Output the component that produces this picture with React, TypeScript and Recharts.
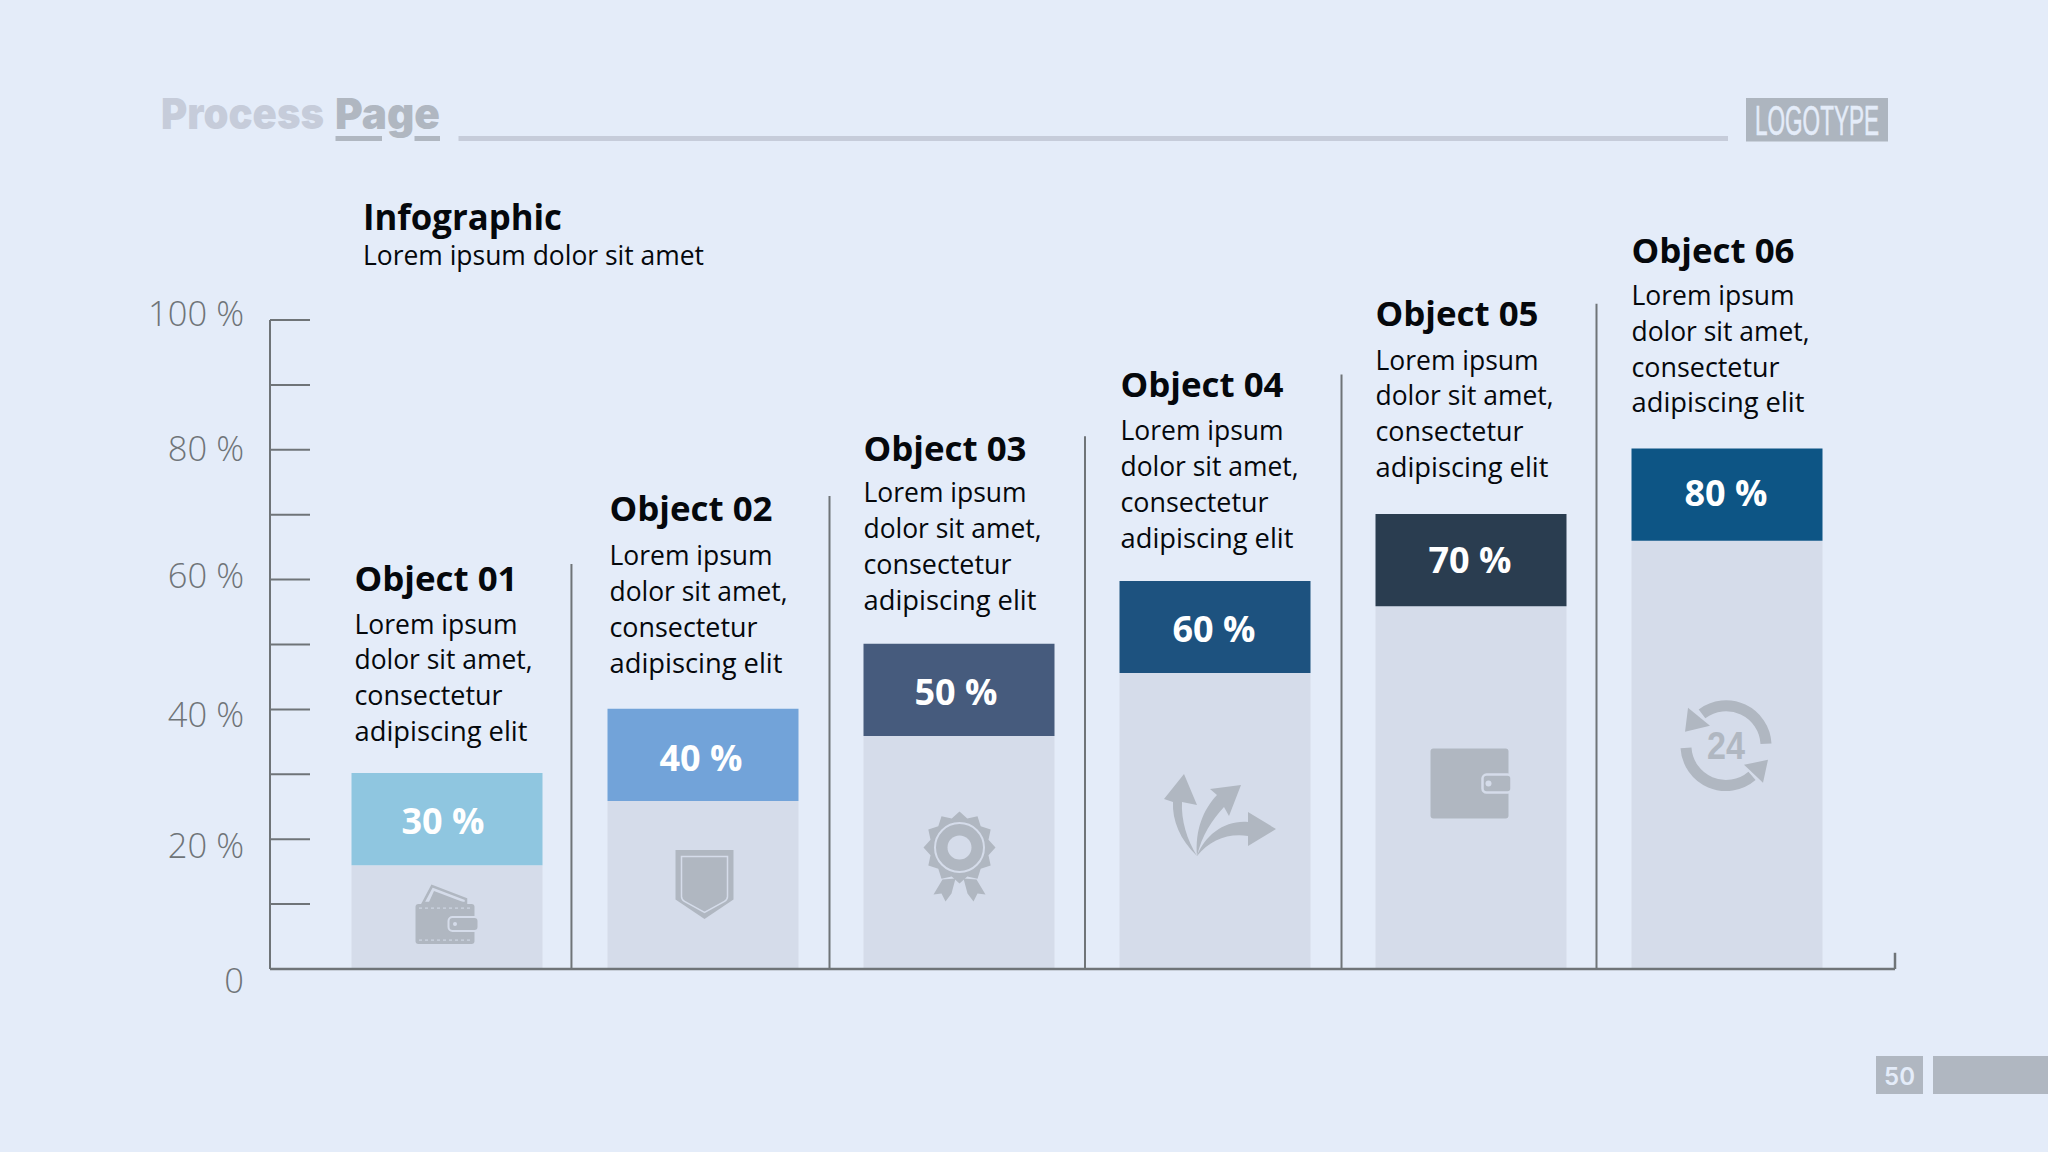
import { Bar, Cell, ComposedChart, LabelList, ReferenceLine, XAxis, YAxis } from "recharts";

const categories = ["Object 01", "Object 02", "Object 03", "Object 04", "Object 05", "Object 06"];
const capLabels = ["30 %", "40 %", "50 %", "60 %", "70 %", "80 %"];
const baseValues = [16, 25.9, 35.9, 45.6, 55.9, 66];
const capValues = [14.2, 14.2, 14.2, 14.2, 14.2, 14.2];
const columnIndex = [0, 1, 2, 3, 4, 5];
const bodyLines = ["Lorem ipsum", "dolor sit amet,", "consectetur", "adipiscing elit"];
const yTicks = [0, 10, 20, 30, 40, 50, 60, 70, 80, 90, 100];
const yLabels: Record<number, string> = { 0: "0", 20: "20 %", 40: "40 %", 60: "60 %", 80: "80 %", 100: "100 %" };

// dividers between the columns, x in column units, y in percent
const dividerPositions = [0.988, 1.996, 2.994, 3.996, 4.992];
const dividerTops = [62.4, 72.9, 82.1, 91.6, 102.5];

const tableData = categories.map((name, i) => ({ name, col: columnIndex[i], base: baseValues[i], cap: capValues[i] }));

const BG = "#e4ecf9";
const BASE = "#d5dcea";
const ICON = "#b0b7c1";
const AXIS = "#6f7478";
const capColors = ["#8fc6e0", "#72a3d9", "#465b7d", "#1d527f", "#2a3d50", "#0d5585"];
const FONT = "'Open Sans', sans-serif";

// small per-column corrections of the hand placed text and icons
const textNudge = [[3, 2], [2, -2], [0, 0], [1, 1], [0, -3], [0, -2]];
const headNudge = [-1, -2.5, 1, -1.5, -1.5, 0];
const iconNudge = [[0, -3], [1.5, -0.5], [0.5, -5], [5, -6], [-1.5, -4], [-1, -9]];
const bodyWidths = [163, 178, 148, 173];
const labelNudge = [[-4, 1], [-2, 3], [-3, 2], [-1, 2], [-1, -1], [-1, -2]];

function YTick({ x, y, payload }: any) {
  const label = yLabels[payload.value];
  const offset: Record<number, number> = { 0: 10, 20: 5, 40: 4, 60: -5, 80: -2.5, 100: -8 };
  return (
    <g>
      <line x1={x} x2={x + 40} y1={y} y2={y} stroke={AXIS} strokeWidth={2} />
      {label && (
        <text
          x={x - 26}
          y={y + (offset[payload.value] ?? 0)}
          textAnchor="end"
          dominantBaseline="central"
          fontFamily={FONT}
          fontSize={34.5}
          fontWeight={300}
          fill="#6f7478"
        >
          {label}
        </text>
      )}
    </g>
  );
}

function CapLabel({ x, y, width, height, index }: any) {
  const left = x + textNudge[index][0];
  const top = y + textNudge[index][1];
  return (
    <g fontFamily={FONT}>
      <text
        x={x + width / 2 + labelNudge[index][0]}
        y={y + height / 2 + labelNudge[index][1]}
        textAnchor="middle"
        dominantBaseline="central"
        fontSize={36}
        fontWeight={700}
        fill="#fff"
      >
        {capLabels[index]}
      </text>
      <text
        x={left}
        y={top - 196.5 + headNudge[index]}
        dominantBaseline="central"
        fontSize={34}
        fontWeight={700}
        fill="#05080c"
        textLength={163}
        lengthAdjust="spacingAndGlyphs"
      >
        {categories[index]}
      </text>
      {bodyLines.map((line, i) => (
        <text
          key={line}
          x={left}
          y={top - 152 + i * 35.8}
          dominantBaseline="central"
          fontSize={27}
          fill="#05080c"
          textLength={bodyWidths[i]}
          lengthAdjust="spacingAndGlyphs"
        >
          {line}
        </text>
      ))}
    </g>
  );
}

function WalletCard() {
  return (
    <g fill={ICON}>
      <path d="M-24 -11 L-15 -28 L19 -15 L19 -11 Z" fill={BASE} stroke={ICON} strokeWidth={2.5} />
      <path d="M-18 -12 L-13 -23 L16 -12 Z" fill={ICON} />
      <rect x={-31.5} y={-10} width={59} height={40} rx={3} />
      <path d="M-28 -6 H24 M-28 26 H24" stroke={BASE} strokeWidth={1} strokeDasharray="3 3" />
      <rect x={1.5} y={3} width={30} height={14} rx={4} stroke={BASE} strokeWidth={2} />
      <circle cx={8} cy={10} r={2} fill={BASE} />
    </g>
  );
}

function Shield() {
  return (
    <g>
      <path d="M-29 -34.5 H29 V15 L0 34.5 L-29 15 Z" fill={ICON} />
      <path d="M-23 -28 H23 V12 Q23 15 20 17 L0 28 L-20 17 Q-23 15 -23 12 Z" fill="none" stroke={BASE} strokeWidth={1.5} />
    </g>
  );
}

function Badge() {
  const points = Array.from({ length: 24 }, (_, i) => {
    const a = (i * Math.PI) / 12 - Math.PI / 2;
    const r = i % 2 === 0 ? 36 : 30;
    return `${r * Math.cos(a)},${r * Math.sin(a)}`;
  }).join(" ");
  return (
    <g fill={ICON}>
      <polygon points={points} />
      <circle r={24.5} fill="none" stroke={BASE} strokeWidth={2} />
      <circle r={12} fill={BASE} />
      <polygon points="-17,32 -4,31 -8,46 -14,54 -18,46 -26,47" />
      <polygon points="17,32 4,31 8,46 14,54 18,46 26,47" />
    </g>
  );
}

function Arrows() {
  return (
    <g fill={ICON}>
      <path d="M-23 41 C-40 25 -48 5 -47 -13 L-56 -16 L-36 -41 L-23 -10 L-38 -13 C-39 5 -33 25 -23 41 Z" />
      <path d="M-23 41 C-25 15 -17 -5 -3 -20 L-10 -26 L21 -30 L9 1 L4 -8 C-8 5 -18 20 -23 41 Z" />
      <path d="M-23 41 C-15 20 5 5 28 7 L28 -3 L56 14 L28 31 L28 21 C8 18 -10 25 -23 41 Z" />
    </g>
  );
}

function WalletClosed() {
  return (
    <g fill={ICON}>
      <rect x={-39} y={-35} width={78} height={70} rx={3} />
      <rect x={13} y={-9} width={29} height={18} rx={4} stroke={BASE} strokeWidth={2.5} />
      <circle cx={19} cy={0} r={3} fill={BASE} />
    </g>
  );
}

function Cycle24() {
  return (
    <g>
      <path d="M-24 -32 A40 40 0 0 1 40 -2" fill="none" stroke={ICON} strokeWidth={11} />
      <path d="M-40 2 A40 40 0 0 0 26 30" fill="none" stroke={ICON} strokeWidth={11} />
      <polygon points="-38,-38 -41,-14 -16,-20" fill={ICON} />
      <polygon points="42,14 18,19 37,37" fill={ICON} />
      <text
        x={0}
        y={0}
        textAnchor="middle"
        dominantBaseline="central"
        fontFamily="'Liberation Sans', sans-serif"
        fontWeight={700}
        fontSize={38}
        fill={ICON}
        textLength={38}
        lengthAdjust="spacingAndGlyphs"
      >
        24
      </text>
    </g>
  );
}

const icons = [WalletCard, Shield, Badge, Arrows, WalletClosed, Cycle24];

function BaseIcon({ x, y, width, height, index }: any) {
  const Icon = icons[index];
  const cx = x + width / 2 + iconNudge[index][0];
  const cy = y + height / 2 + iconNudge[index][1];
  return (
    <g transform={`translate(${cx} ${cy})`}>
      <Icon />
    </g>
  );
}

function Header() {
  return (
    <svg width={2048} height={1152} style={{ position: "absolute", left: 0, top: 0 }}>
      <text
        x={161}
        y={129}
        fontFamily="Inter, sans-serif"
        fontWeight={900}
        fontSize={43}
        fill="#c6ccda"
        textLength={163}
        lengthAdjust="spacingAndGlyphs"
      >
        Process
      </text>
      <text
        x={335}
        y={129}
        fontFamily="Inter, sans-serif"
        fontWeight={900}
        fontSize={43}
        fill={ICON}
        textLength={105}
        lengthAdjust="spacingAndGlyphs"
      >
        Page
      </text>
      <rect x={335.5} y={136} width={46.5} height={5} fill={ICON} />
      <rect x={414.5} y={136} width={25.5} height={5} fill={ICON} />
      <rect x={458.5} y={136} width={1269.5} height={5} fill="#c6ccda" />

      <rect x={1746} y={98} width={142} height={43.5} fill="#adb5bf" />
      <text
        x={1755}
        y={135}
        fontFamily="'Liberation Sans Narrow', 'Liberation Sans', sans-serif"
        fontSize={42}
        fill={BG}
        stroke={BG}
        strokeWidth={0.6}
        textLength={124}
        lengthAdjust="spacingAndGlyphs"
      >
        LOGOTYPE
      </text>

      <text x={363} y={216} dominantBaseline="central" fontFamily={FONT} fontWeight={700} fontSize={36} fill="#05080c" textLength={199} lengthAdjust="spacingAndGlyphs">
        Infographic
      </text>
      <text x={363} y={254} dominantBaseline="central" fontFamily={FONT} fontSize={27} fill="#05080c" textLength={341} lengthAdjust="spacingAndGlyphs">
        Lorem ipsum dolor sit amet
      </text>

      <rect x={1876} y={1056} width={47} height={38} fill={ICON} />
      <rect x={1933} y={1056} width={115} height={38} fill={ICON} />
      <text x={1899.5} y={1076} textAnchor="middle" dominantBaseline="central" fontFamily="Inter, sans-serif" fontWeight={600} fontSize={24} fill={BG}>
        50
      </text>
    </svg>
  );
}

export default function App() {
  return (
    <div style={{ position: "absolute", left: 0, top: 0, width: 2048, height: 1152, background: BG, overflow: "hidden" }}>
      <Header />
      <div style={{ position: "absolute", left: 0, top: 0 }}>
        <ComposedChart
          width={2048}
          height={1152}
          data={tableData}
          margin={{ top: 320, right: 153, bottom: 182, left: 0 }}
          barCategoryGap={0}
        >
          <XAxis
            dataKey="name"
            height={1}
            padding={{ left: 48.5, right: 40.5 }}
            tick={false}
            tickLine={false}
            axisLine={{ stroke: AXIS, strokeWidth: 2.5 }}
          />
          <XAxis xAxisId="rule" dataKey="col" type="number" domain={[-0.1895, 6.158]} allowDataOverflow hide />
          <YAxis
            type="number"
            width={270}
            domain={[0, 100]}
            ticks={yTicks}
            interval={0}
            tickSize={0}
            tickMargin={0}
            tickLine={false}
            axisLine={{ stroke: AXIS, strokeWidth: 2 }}
            tick={<YTick />}
          />
          <Bar dataKey="base" stackId="a" barSize={191} fill={BASE} isAnimationActive={false}>
            <LabelList dataKey="base" content={<BaseIcon />} />
          </Bar>
          <Bar dataKey="cap" stackId="a" barSize={191} isAnimationActive={false}>
            {categories.map((name, i) => (
              <Cell key={name} fill={capColors[i]} />
            ))}
            <LabelList dataKey="cap" content={<CapLabel />} />
          </Bar>
          {dividerPositions.map((pos, i) => (
            <ReferenceLine
              key={pos}
              xAxisId="rule"
              ifOverflow="visible"
              stroke={AXIS}
              strokeWidth={2}
              segment={[
                { x: pos, y: 0 },
                { x: pos, y: dividerTops[i] },
              ]}
            />
          ))}
          <ReferenceLine
            xAxisId="rule"
            ifOverflow="visible"
            stroke={AXIS}
            strokeWidth={2.5}
            segment={[
              { x: 6.158, y: 0 },
              { x: 6.158, y: 2.5 },
            ]}
          />
        </ComposedChart>
      </div>
    </div>
  );
}
